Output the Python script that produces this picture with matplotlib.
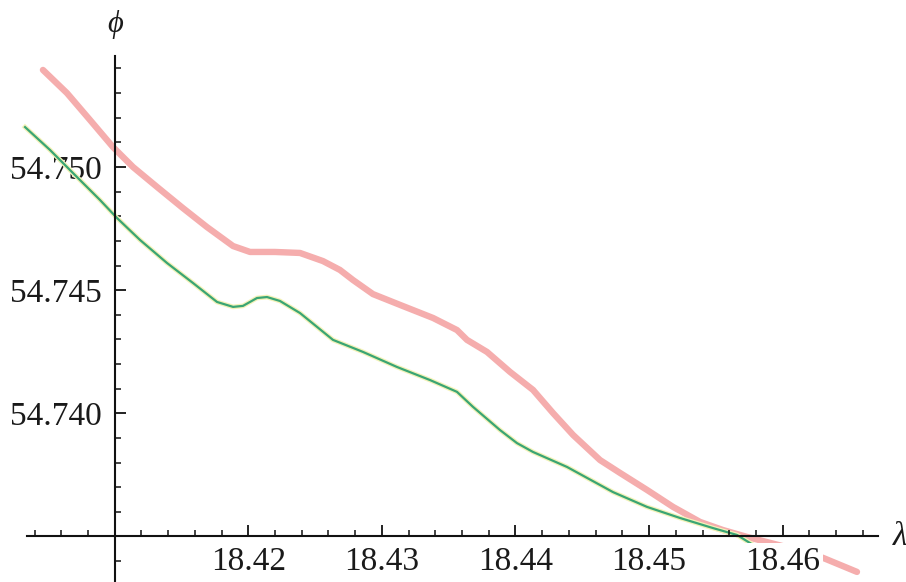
import numpy as np
import matplotlib
matplotlib.use("Agg")
import matplotlib.pyplot as plt

# ---- data ----
red_x = [18.40463, 18.40643, 18.40815, 18.40987, 18.41137, 18.41317, 18.41511, 18.41691,
         18.41886, 18.42013, 18.42199, 18.42387, 18.42559, 18.42686, 18.42784, 18.42933,
         18.43136, 18.43383, 18.43562, 18.43637, 18.43787, 18.43959, 18.44131, 18.44281,
         18.44431, 18.44633, 18.44782, 18.44984, 18.45179, 18.45381, 18.45553, 18.45733,
         18.46055, 18.46302, 18.46556]
red_y = [54.75394, 54.75300, 54.75191, 54.75081, 54.75000, 54.74919, 54.74833, 54.74756,
         54.74679, 54.74655, 54.74655, 54.74651, 54.74618, 54.74582, 54.74541, 54.74484,
         54.74440, 54.74387, 54.74338, 54.74298, 54.74249, 54.74168, 54.74095, 54.74001,
         54.73912, 54.73810, 54.73758, 54.73689, 54.73620, 54.73559, 54.73526, 54.73498,
         54.73453, 54.73413, 54.73356]

green_x = [18.40329, 18.40516, 18.40718, 18.40890, 18.41017, 18.41189, 18.41392, 18.41586,
           18.41766, 18.41886, 18.41960, 18.42065, 18.42140, 18.42237, 18.42387, 18.42634,
           18.42859, 18.43113, 18.43360, 18.43562, 18.43682, 18.43884, 18.44011, 18.44131,
           18.44386, 18.44730, 18.44984, 18.45231, 18.45478, 18.45658, 18.45875]
green_y = [54.75162, 54.75069, 54.74959, 54.74866, 54.74793, 54.74704, 54.74610, 54.74529,
           54.74452, 54.74432, 54.74436, 54.74468, 54.74472, 54.74456, 54.74407, 54.74298,
           54.74249, 54.74188, 54.74135, 54.74087, 54.74026, 54.73932, 54.73879, 54.73843,
           54.73782, 54.73680, 54.73620, 54.73575, 54.73534, 54.73506, 54.73433]

x_major = [18.42, 18.43, 18.44, 18.45, 18.46]
x_major_labels = ["18.42", "18.43", "18.44", "18.45", "18.46"]
x_minor = [18.404, 18.406, 18.408, 18.412, 18.414, 18.416, 18.418, 18.422, 18.424, 18.426,
           18.428, 18.432, 18.434, 18.436, 18.438, 18.442, 18.444, 18.446, 18.448, 18.452,
           18.454, 18.456, 18.458, 18.462, 18.464, 18.466]
y_major = [54.740, 54.745, 54.750]
y_major_labels = ["54.740", "54.745", "54.750"]
y_minor = [54.734, 54.736, 54.737, 54.738, 54.739, 54.741, 54.742, 54.743, 54.744,
           54.746, 54.747, 54.748, 54.749, 54.751, 54.752, 54.753, 54.754]

x_origin = 18.41
y_origin = 54.735

# ---- figure ----
serif = ["Liberation Serif", "DejaVu Serif"]
fig = plt.figure(figsize=(9.06, 5.82), dpi=100)
ax = fig.add_axes([0, 0, 1, 1])
ax.set_xlim(18.401415, 18.469230)
ax.set_ylim(54.73315, 54.75678)

ax.plot(red_x, red_y, color="#f5adad", lw=4.6, solid_capstyle="round",
        solid_joinstyle="round", zorder=2)
ax.plot(green_x, green_y, color="#f4f2b8", lw=3.4, solid_joinstyle="round", zorder=2.1)
ax.plot(green_x, green_y, color="#3aa574", lw=1.6, solid_joinstyle="round", zorder=2.2)

for s in ["top", "right"]:
    ax.spines[s].set_visible(False)
ax.spines["left"].set_position(("data", x_origin))
ax.spines["bottom"].set_position(("data", y_origin))
ax.spines["left"].set_bounds(54.73315, 54.7545)
ax.spines["bottom"].set_bounds(18.4034, 18.4671)
for s in ["left", "bottom"]:
    ax.spines[s].set_linewidth(1.5)
    ax.spines[s].set_color("#111111")
    ax.spines[s].set_zorder(3)

ax.set_xticks(x_major)
ax.set_xticklabels(x_major_labels)
ax.set_xticks(x_minor, minor=True)
ax.set_yticks(y_major)
ax.set_yticklabels(y_major_labels)
ax.set_yticks(y_minor, minor=True)

ax.tick_params(axis="both", which="major", direction="in", length=8, width=1.3,
               color="#111111", labelsize=24, labelcolor="#1a1a1a")
ax.tick_params(axis="both", which="minor", direction="in", length=4.5, width=1.1,
               color="#111111")
ax.tick_params(axis="x", which="major", pad=7)
ax.tick_params(axis="y", which="major", pad=9)
ax.xaxis.set_zorder(2.6)

for lbl in ax.get_xticklabels():
    lbl.set_fontfamily(serif)
    lbl.set_bbox(dict(facecolor="white", edgecolor="none", pad=2.0))
for lbl in ax.get_yticklabels():
    lbl.set_fontfamily(serif)

ax.text(x_origin, 54.75577, "\u03d5", family=serif, style="italic", fontsize=22,
        ha="center", va="center", color="#1a1a1a")
ax.text(18.46878, y_origin, "\u03bb", family=serif, style="italic", fontsize=24,
        ha="center", va="center", color="#1a1a1a", clip_on=False)

fig.savefig("out.png", dpi=100, facecolor="white")
